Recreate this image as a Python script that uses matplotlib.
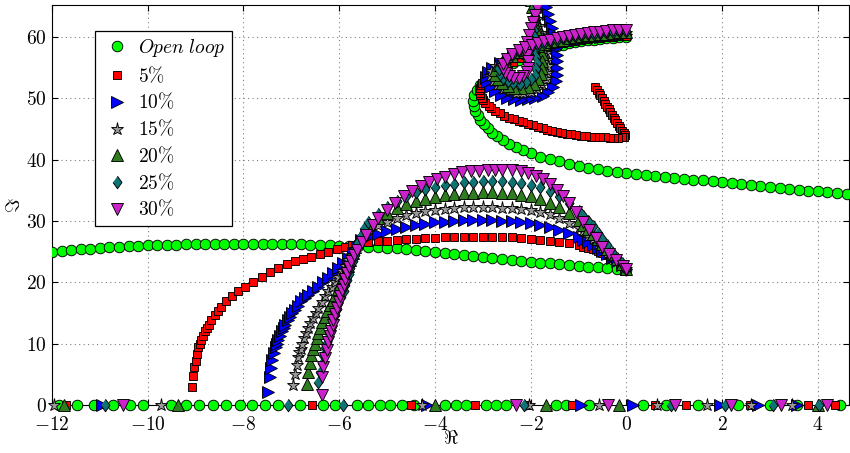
import numpy as np
import matplotlib
matplotlib.use("Agg")
import matplotlib.pyplot as plt
from matplotlib.ticker import FuncFormatter, MultipleLocator

plt.rcParams["mathtext.fontset"] = "cm"
plt.rcParams["font.family"] = ["DejaVu Serif"]

# ---- root locus data, (re, im) pairs ----

# open loop
ol_lower = [(-12.0, 24.9), (-11.8, 25.1), (-11.6, 25.25), (-11.4, 25.4), (-11.2, 25.5), (-11.0, 25.6),
            (-10.8, 25.7), (-10.6, 25.8), (-10.4, 25.9), (-10.2, 25.95), (-10.0, 26.0), (-9.8, 26.05),
            (-9.6, 26.1), (-9.4, 26.15), (-9.2, 26.2), (-9.0, 26.2), (-8.8, 26.25), (-8.6, 26.25),
            (-8.4, 26.3), (-8.2, 26.3), (-8.0, 26.3), (-7.8, 26.3), (-7.6, 26.3), (-7.4, 26.3),
            (-7.2, 26.25), (-7.0, 26.2), (-6.8, 26.2), (-6.6, 26.15), (-6.4, 26.1), (-6.2, 26.0),
            (-6.0, 25.95), (-5.8, 25.9), (-5.6, 25.85), (-5.4, 25.8), (-5.2, 25.75), (-5.0, 25.65),
            (-4.8, 25.55), (-4.6, 25.4), (-4.4, 25.25), (-4.2, 25.1), (-4.0, 24.95), (-3.8, 24.8),
            (-3.6, 24.6), (-3.4, 24.45), (-3.2, 24.25), (-3.0, 24.1), (-2.8, 23.9), (-2.6, 23.75),
            (-2.4, 23.6), (-2.2, 23.45), (-2.0, 23.35), (-1.8, 23.2), (-1.6, 23.1), (-1.4, 22.95),
            (-1.2, 22.85), (-1.0, 22.7), (-0.8, 22.55), (-0.6, 22.45), (-0.4, 22.3), (-0.2, 22.15),
            (0.0, 22.0)]
ol_upper = [(4.6, 34.35), (4.4, 34.5), (4.2, 34.65), (4.0, 34.8), (3.8, 34.95), (3.6, 35.1), (3.4, 35.25),
            (3.2, 35.4), (3.0, 35.55), (2.8, 35.7), (2.6, 35.85), (2.4, 36.0), (2.2, 36.15), (2.0, 36.3),
            (1.8, 36.45), (1.6, 36.6), (1.4, 36.75), (1.2, 36.9), (1.0, 37.05), (0.8, 37.2), (0.6, 37.35),
            (0.4, 37.5), (0.2, 37.65), (0.0, 37.8), (-0.2, 38.0), (-0.4, 38.2), (-0.6, 38.45), (-0.8, 38.7),
            (-1.0, 39.0), (-1.2, 39.3), (-1.4, 39.7), (-1.6, 40.1), (-1.8, 40.5), (-2.0, 41.0), (-2.15, 41.5),
            (-2.3, 42.0), (-2.45, 42.6), (-2.58, 43.2), (-2.7, 43.8), (-2.8, 44.4), (-2.9, 45.1), (-2.98, 45.8),
            (-3.05, 46.5), (-3.11, 47.2), (-3.16, 48.0), (-3.19, 48.8), (-3.2, 49.6), (-3.18, 50.5),
            (-3.13, 51.3), (-3.05, 52.1), (-2.95, 52.9), (-2.82, 53.7), (-2.67, 54.4), (-2.5, 55.1),
            (-2.37, 55.7), (-2.24, 56.3), (-2.11, 56.85), (-1.98, 57.3), (-1.85, 57.7), (-1.72, 58.05),
            (-1.59, 58.3), (-1.46, 58.55), (-1.33, 58.75), (-1.2, 58.95), (-1.07, 59.15), (-0.94, 59.3),
            (-0.81, 59.45), (-0.68, 59.55), (-0.55, 59.65), (-0.42, 59.75), (-0.29, 59.85), (-0.16, 59.95),
            (0.0, 60.0)]
ol_axis = [-11.85, -11.47, -11.12, -10.73, -10.38, -10.10, -9.51, -9.20, -8.92, -8.64, -8.36, -8.08,
           -7.83, -7.55, -7.27, -6.82, -6.33, -6.09, -5.63, -5.39, -5.14, -4.93, -4.69, -4.44, -3.78,
           -3.57, -3.36, -2.94, -2.73, -2.52, -1.47, -1.26, -0.78, 0.34, 0.83, 1.49, 2.33, 3.0, 3.56, 4.47]

# 5 %
p5_lower = [(-9.08, 2.9), (-9.06, 4.8), (-9.03, 6.2), (-9.0, 7.2), (-8.97, 8.3), (-8.94, 9.4), (-8.91, 10.0),
            (-8.89, 10.6), (-8.85, 11.3), (-8.81, 12.0), (-8.77, 12.6), (-8.73, 13.1), (-8.67, 13.9),
            (-8.60, 14.7), (-8.53, 15.4), (-8.46, 16.0), (-8.36, 16.9), (-8.25, 17.7), (-8.12, 18.5),
            (-7.97, 19.3), (-7.80, 20.1), (-7.62, 20.9), (-7.45, 21.6), (-7.27, 22.3), (-7.10, 22.9),
            (-6.92, 23.4), (-6.75, 23.8), (-6.58, 24.2), (-6.40, 24.6), (-6.23, 25.0), (-6.05, 25.4),
            (-5.88, 25.8), (-5.74, 26.0), (-5.6, 26.3), (-5.4, 26.5), (-5.2, 26.7), (-5.0, 26.8),
            (-4.8, 26.9), (-4.6, 27.0), (-4.4, 27.1), (-4.2, 27.2), (-4.0, 27.25), (-3.8, 27.3),
            (-3.6, 27.35), (-3.4, 27.35), (-3.2, 27.4), (-3.0, 27.4), (-2.8, 27.4), (-2.6, 27.35),
            (-2.4, 27.3), (-2.2, 27.2), (-2.0, 27.1), (-1.8, 26.95), (-1.6, 26.8), (-1.4, 26.6),
            (-1.2, 26.35), (-1.0, 26.0), (-0.9, 25.8), (-0.8, 25.6), (-0.7, 25.35), (-0.6, 25.1),
            (-0.5, 24.8), (-0.4, 24.4), (-0.3, 24.0), (-0.2, 23.5), (-0.1, 22.9), (0.0, 22.2)]
p5_upper = [(-0.65, 51.8), (-0.615, 51.35), (-0.58, 50.9), (-0.545, 50.45), (-0.51, 50.0), (-0.475, 49.55),
            (-0.44, 49.1), (-0.405, 48.65), (-0.37, 48.2), (-0.335, 47.75), (-0.3, 47.3), (-0.265, 46.85),
            (-0.23, 46.4), (-0.195, 45.95), (-0.16, 45.5), (-0.125, 45.1), (-0.09, 44.7), (-0.06, 44.35),
            (-0.03, 44.0), (-0.05, 43.7), (-0.1, 43.6), (-0.18, 43.55), (-0.25, 43.55), (-0.35, 43.58),
            (-0.45, 43.6), (-0.55, 43.65), (-0.65, 43.68), (-0.75, 43.72), (-0.85, 43.8), (-0.95, 43.9),
            (-1.05, 44.0), (-1.15, 44.1), (-1.25, 44.23), (-1.35, 44.37), (-1.45, 44.55), (-1.55, 44.72),
            (-1.65, 44.9), (-1.75, 45.1), (-1.85, 45.33), (-1.95, 45.57), (-2.05, 45.8), (-2.15, 46.07),
            (-2.25, 46.33), (-2.35, 46.6), (-2.45, 46.85), (-2.55, 47.15), (-2.65, 47.55), (-2.75, 48.0),
            (-2.82, 48.35), (-2.88, 48.75), (-2.95, 49.3), (-3.0, 49.7), (-3.02, 50.1), (-3.05, 50.5),
            (-3.06, 50.9), (-3.07, 51.3), (-3.06, 51.7), (-3.04, 52.1), (-3.02, 52.5), (-2.98, 52.9),
            (-2.94, 53.3), (-2.88, 53.7), (-2.82, 54.1), (-2.74, 54.5), (-2.66, 54.9), (-2.57, 55.25),
            (-2.47, 55.6), (-2.37, 55.9), (-2.24, 56.5), (-2.11, 57.0), (-1.98, 57.45), (-1.85, 57.85),
            (-1.72, 58.2), (-1.59, 58.5), (-1.46, 58.75), (-1.33, 58.95), (-1.2, 59.15), (-1.07, 59.35),
            (-0.94, 59.5), (-0.81, 59.65), (-0.68, 59.75), (-0.55, 59.85), (-0.42, 59.95), (-0.29, 60.05),
            (-0.16, 60.15), (0.0, 60.2)]
p5_axis = [-11.71, -6.56, -4.51, -3.17, -2.07, -1.13, 0.59, 1.25, 2.58, 3.80, 4.36]

# 10 %
p10_lower = [(-7.48, 2.1), (-7.45, 4.6), (-7.43, 6.1), (-7.40, 7.4), (-7.37, 8.4), (-7.32, 9.5), (-7.30, 10.0),
             (-7.27, 10.6), (-7.23, 11.3), (-7.2, 12.0), (-7.16, 12.6), (-7.13, 13.1), (-7.08, 13.8),
             (-7.03, 14.4), (-6.98, 15.0), (-6.93, 15.5), (-6.86, 16.2), (-6.79, 16.9), (-6.72, 17.4),
             (-6.65, 17.9), (-6.55, 18.6), (-6.44, 19.3), (-6.34, 20.0), (-6.23, 20.7), (-6.12, 21.5),
             (-6.02, 22.3), (-5.92, 23.1), (-5.81, 23.9), (-5.72, 24.8), (-5.63, 25.8), (-5.55, 26.9),
             (-5.4, 27.3), (-5.2, 27.8), (-5.0, 28.3), (-4.8, 28.7), (-4.6, 29.0), (-4.4, 29.3),
             (-4.2, 29.55), (-4.0, 29.75), (-3.8, 29.9), (-3.6, 30.0), (-3.4, 30.1), (-3.2, 30.15),
             (-3.0, 30.15), (-2.8, 30.1), (-2.6, 30.05), (-2.4, 30.0), (-2.2, 29.85), (-2.0, 29.65),
             (-1.8, 29.4), (-1.6, 29.05), (-1.4, 28.6), (-1.2, 28.0), (-1.0, 27.3), (-0.9, 26.9),
             (-0.8, 26.5), (-0.7, 26.1), (-0.6, 25.6), (-0.5, 25.1), (-0.4, 24.6), (-0.3, 24.0),
             (-0.2, 23.5), (-0.1, 22.8), (0.0, 22.2)]
p10_upper = [(-1.68, 64.8), (-1.63, 63.7), (-1.59, 62.6), (-1.55, 61.5), (-1.52, 60.4), (-1.49, 59.3),
             (-1.47, 58.2), (-1.45, 57.1), (-1.44, 56.0), (-1.44, 54.9), (-1.45, 53.8), (-1.48, 52.8),
             (-1.54, 51.8), (-1.63, 51.0), (-1.75, 50.4), (-1.9, 50.0), (-2.05, 49.8), (-2.2, 49.75),
             (-2.35, 49.85), (-2.5, 50.1), (-2.63, 50.5), (-2.75, 51.1), (-2.85, 51.8), (-2.92, 52.6),
             (-2.94, 53.4), (-2.9, 54.2), (-2.8, 55.0), (-2.65, 55.7), (-2.46, 56.35), (-2.37, 56.65),
             (-2.24, 57.1), (-2.11, 57.5), (-1.98, 57.85), (-1.85, 58.15), (-1.72, 58.45), (-1.59, 58.7),
             (-1.46, 58.95), (-1.33, 59.15), (-1.2, 59.35), (-1.07, 59.55), (-0.94, 59.7), (-0.81, 59.85),
             (-0.68, 59.95), (-0.55, 60.05), (-0.42, 60.15), (-0.29, 60.25), (-0.16, 60.35), (0.0, 60.4)]
p10_axis = [-10.95, -4.17, -0.95, 0.13, 1.95, 2.75, 3.56]

# 15 %
p15_lower = [(-6.96, 3.3), (-6.93, 5.1), (-6.89, 6.5), (-6.86, 7.9), (-6.83, 8.6), (-6.80, 9.2), (-6.77, 10.0),
             (-6.73, 10.9), (-6.69, 11.7), (-6.65, 12.5), (-6.60, 13.3), (-6.54, 14.1), (-6.49, 15.0),
             (-6.44, 15.8), (-6.37, 16.8), (-6.30, 17.7), (-6.23, 18.5), (-6.16, 19.3), (-6.09, 20.1),
             (-6.02, 20.9), (-5.95, 21.8), (-5.88, 22.6), (-5.81, 23.6), (-5.74, 24.5), (-5.67, 25.5),
             (-5.6, 26.4), (-5.52, 27.4), (-5.4, 28.6), (-5.2, 29.3), (-5.0, 29.9), (-4.8, 30.5),
             (-4.6, 30.9), (-4.4, 31.3), (-4.2, 31.6), (-4.0, 31.85), (-3.8, 32.0), (-3.6, 32.15),
             (-3.4, 32.2), (-3.2, 32.25), (-3.0, 32.25), (-2.8, 32.2), (-2.6, 32.15), (-2.4, 32.1),
             (-2.2, 32.0), (-2.0, 31.8), (-1.8, 31.5), (-1.6, 31.1), (-1.4, 30.5), (-1.2, 29.7),
             (-1.0, 28.8), (-0.9, 28.3), (-0.8, 27.6), (-0.7, 27.0), (-0.6, 26.3), (-0.5, 25.6),
             (-0.4, 24.8), (-0.3, 24.1), (-0.2, 23.4), (-0.1, 22.8), (0.0, 22.2)]
p15_upper = [(-1.97, 66.2), (-1.93, 65.1), (-1.9, 64.0), (-1.86, 62.9), (-1.82, 61.8), (-1.78, 60.7),
             (-1.74, 59.6), (-1.7, 58.5), (-1.67, 57.4), (-1.65, 56.3), (-1.64, 55.2), (-1.65, 54.1),
             (-1.69, 53.1), (-1.76, 52.2), (-1.87, 51.5), (-2.0, 51.0), (-2.15, 50.8), (-2.3, 50.85),
             (-2.45, 51.1), (-2.58, 51.5), (-2.7, 52.1), (-2.79, 52.8), (-2.84, 53.6), (-2.83, 54.4),
             (-2.74, 55.2), (-2.6, 55.9), (-2.5, 56.35), (-2.37, 56.85), (-2.24, 57.3), (-2.11, 57.7),
             (-1.98, 58.05), (-1.85, 58.35), (-1.72, 58.65), (-1.59, 58.9), (-1.46, 59.15), (-1.33, 59.35),
             (-1.2, 59.55), (-1.07, 59.75), (-0.94, 59.9), (-0.81, 60.05), (-0.68, 60.15), (-0.55, 60.25),
             (-0.42, 60.35), (-0.29, 60.45), (-0.16, 60.55), (0.0, 60.6)]
p15_axis = [-11.96, -9.72, -4.26, -2.03, -0.57, 0.64, 1.68, 2.61, 3.45]

# 20 %
p20_lower = [(-6.68, 3.4), (-6.65, 5.4), (-6.61, 6.9), (-6.58, 8.2), (-6.54, 9.2), (-6.51, 10.0), (-6.47, 10.9),
             (-6.44, 11.7), (-6.40, 12.5), (-6.35, 13.5), (-6.30, 14.4), (-6.25, 15.4), (-6.19, 16.3),
             (-6.14, 17.1), (-6.09, 17.9), (-6.03, 18.9), (-5.98, 19.8), (-5.93, 20.8), (-5.88, 21.7),
             (-5.82, 22.7), (-5.77, 23.7), (-5.72, 24.8), (-5.67, 25.8), (-5.6, 26.9), (-5.52, 28.0),
             (-5.4, 29.3), (-5.2, 30.4), (-5.0, 31.3), (-4.8, 32.1), (-4.6, 32.7), (-4.4, 33.2),
             (-4.2, 33.6), (-4.0, 33.95), (-3.8, 34.2), (-3.6, 34.4), (-3.4, 34.5), (-3.2, 34.6),
             (-3.0, 34.65), (-2.8, 34.65), (-2.6, 34.6), (-2.4, 34.5), (-2.2, 34.3), (-2.0, 34.0),
             (-1.8, 33.6), (-1.6, 33.0), (-1.4, 32.3), (-1.2, 31.3), (-1.0, 30.1), (-0.9, 29.4),
             (-0.8, 28.7), (-0.7, 27.9), (-0.6, 27.1), (-0.5, 26.3), (-0.4, 25.4), (-0.3, 24.6),
             (-0.2, 23.8), (-0.1, 23.0), (0.0, 22.2)]
p20_upper = [(-2.0, 66.0), (-1.97, 64.9), (-1.94, 63.8), (-1.91, 62.7), (-1.88, 61.6), (-1.85, 60.5),
             (-1.82, 59.4), (-1.79, 58.3), (-1.77, 57.2), (-1.76, 56.1), (-1.76, 55.0), (-1.79, 54.0),
             (-1.85, 53.1), (-1.94, 52.4), (-2.06, 51.9), (-2.2, 51.65), (-2.35, 51.7), (-2.48, 52.0),
             (-2.6, 52.5), (-2.69, 53.1), (-2.74, 53.8), (-2.74, 54.6), (-2.67, 55.4), (-2.54, 56.1),
             (-2.4, 56.85), (-2.24, 57.5), (-2.11, 57.9), (-1.98, 58.25), (-1.85, 58.55), (-1.72, 58.85),
             (-1.59, 59.1), (-1.46, 59.35), (-1.33, 59.55), (-1.2, 59.75), (-1.07, 59.95), (-0.94, 60.1),
             (-0.81, 60.25), (-0.68, 60.35), (-0.55, 60.45), (-0.42, 60.55), (-0.29, 60.65), (-0.16, 60.75),
             (0.0, 60.8)]
p20_axis = [-11.75, -9.37, -3.99, -1.68, -0.15, 4.01]

# 25 %
p25_lower = [(-6.44, 3.8), (-6.40, 5.4), (-6.37, 6.8), (-6.33, 8.2), (-6.30, 9.5), (-6.26, 10.3), (-6.23, 11.1),
             (-6.20, 12.0), (-6.16, 12.8), (-6.12, 13.8), (-6.09, 14.7), (-6.05, 15.7), (-6.02, 16.6),
             (-5.96, 17.6), (-5.91, 18.5), (-5.87, 19.5), (-5.84, 20.4), (-5.80, 21.4), (-5.77, 22.3),
             (-5.72, 23.4), (-5.68, 24.5), (-5.64, 25.5), (-5.6, 26.4), (-5.55, 27.6), (-5.48, 28.8),
             (-5.4, 29.8), (-5.2, 31.2), (-5.0, 32.3), (-4.8, 33.3), (-4.6, 34.1), (-4.4, 34.7),
             (-4.2, 35.2), (-4.0, 35.6), (-3.8, 35.9), (-3.6, 36.1), (-3.4, 36.3), (-3.2, 36.4),
             (-3.0, 36.5), (-2.8, 36.5), (-2.6, 36.5), (-2.4, 36.4), (-2.2, 36.2), (-2.0, 35.9),
             (-1.8, 35.5), (-1.6, 34.9), (-1.4, 34.1), (-1.2, 33.0), (-1.0, 31.6), (-0.9, 30.8),
             (-0.8, 30.0), (-0.7, 29.1), (-0.6, 28.1), (-0.5, 27.1), (-0.4, 26.0), (-0.3, 25.0),
             (-0.2, 24.0), (-0.1, 23.1), (0.0, 22.2)]
p25_upper = [(-1.88, 65.6), (-1.9, 64.5), (-1.92, 63.4), (-1.93, 62.3), (-1.93, 61.2), (-1.93, 60.1),
             (-1.92, 59.0), (-1.9, 57.9), (-1.88, 56.8), (-1.87, 55.7), (-1.88, 54.7), (-1.92, 53.8),
             (-1.99, 53.1), (-2.09, 52.6), (-2.22, 52.4), (-2.36, 52.5), (-2.48, 52.8), (-2.58, 53.3),
             (-2.65, 54.0), (-2.67, 54.8), (-2.63, 55.6), (-2.52, 56.4), (-2.38, 57.05), (-2.24, 57.7),
             (-2.11, 58.1), (-1.98, 58.45), (-1.85, 58.75), (-1.72, 59.05), (-1.59, 59.3), (-1.46, 59.55),
             (-1.33, 59.75), (-1.2, 59.95), (-1.07, 60.15), (-0.94, 60.3), (-0.81, 60.45), (-0.68, 60.55),
             (-0.55, 60.65), (-0.42, 60.75), (-0.29, 60.85), (-0.16, 60.95), (0.0, 61.0)]
p25_axis = [-10.9, -7.08, -5.93, -2.14, 0.94, 2.05, 3.07, 4.03]

# 30 %
p30_lower = [(-6.37, 1.6), (-6.35, 4.5), (-6.33, 6.2), (-6.30, 7.6), (-6.26, 9.0), (-6.23, 10.3), (-6.20, 11.2),
             (-6.17, 12.0), (-6.14, 13.0), (-6.12, 13.9), (-6.08, 14.9), (-6.05, 15.8), (-6.01, 16.8),
             (-5.98, 17.7), (-5.94, 18.7), (-5.91, 19.6), (-5.87, 20.6), (-5.84, 21.5), (-5.8, 22.5),
             (-5.76, 23.4), (-5.69, 24.4), (-5.62, 25.3), (-5.53, 26.5), (-5.45, 27.7), (-5.3, 29.4),
             (-5.18, 30.5), (-5.0, 31.8), (-4.83, 33.0), (-4.65, 34.0), (-4.48, 34.9), (-4.3, 35.7),
             (-4.13, 36.3), (-3.95, 36.8), (-3.8, 37.2), (-3.6, 37.6), (-3.43, 37.9), (-3.25, 38.1),
             (-3.08, 38.2), (-2.9, 38.3), (-2.75, 38.35), (-2.59, 38.35), (-2.4, 38.3), (-2.2, 38.1),
             (-2.05, 37.8), (-1.89, 37.4), (-1.75, 36.8), (-1.6, 36.0), (-1.45, 35.0), (-1.33, 34.1),
             (-1.2, 32.9), (-1.05, 31.4), (-0.91, 29.9), (-0.78, 28.6), (-0.64, 27.2), (-0.5, 25.8),
             (-0.36, 24.6), (-0.22, 23.6), (-0.08, 22.7), (0.0, 22.2)]
p30_upper = [(-1.86, 64.7), (-1.9, 63.6), (-1.95, 62.5), (-2.0, 61.4), (-2.04, 60.3), (-2.07, 59.2),
             (-2.08, 58.1), (-2.07, 57.0), (-2.05, 56.0), (-2.05, 55.0), (-2.08, 54.2), (-2.15, 53.6),
             (-2.25, 53.3), (-2.36, 53.3), (-2.46, 53.6), (-2.54, 54.1), (-2.58, 54.8), (-2.57, 55.6),
             (-2.5, 56.4), (-2.38, 57.2), (-2.24, 57.9), (-2.11, 58.3), (-1.98, 58.65), (-1.85, 58.95),
             (-1.72, 59.25), (-1.59, 59.5), (-1.46, 59.75), (-1.33, 59.95), (-1.2, 60.15), (-1.07, 60.35),
             (-0.94, 60.5), (-0.81, 60.65), (-0.68, 60.75), (-0.55, 60.85), (-0.42, 60.95), (-0.29, 61.05),
             (-0.16, 61.15), (0.0, 61.2)]
p30_axis = [-10.52, -2.31, -0.39, 1.01, 2.19, 3.24, 4.19]

labels = [r"$Open\ loop$", r"$5\%$", r"$10\%$", r"$15\%$", r"$20\%$", r"$25\%$", r"$30\%$"]
branches = [
    (ol_lower, ol_upper, ol_axis),
    (p5_lower, p5_upper, p5_axis),
    (p10_lower, p10_upper, p10_axis),
    (p15_lower, p15_upper, p15_axis),
    (p20_lower, p20_upper, p20_axis),
    (p25_lower, p25_upper, p25_axis),
    (p30_lower, p30_upper, p30_axis),
]

diamond = [(0, 1), (0.72, 0), (0, -1), (-0.72, 0)]
styles = [
    dict(marker="o", mfc="#00ff00", ms=7.6),
    dict(marker="s", mfc="#ff0000", ms=6.4),
    dict(marker=">", mfc="#0000ff", ms=8),
    dict(marker="*", mfc="#999999", ms=9.5),
    dict(marker="^", mfc="#2e7d1f", ms=8),
    dict(marker=diamond, mfc="#0f7373", ms=9),
    dict(marker="v", mfc="#cc22cc", ms=8),
]

fig = plt.figure(figsize=(8.5, 4.53), dpi=100)
ax = fig.add_axes([0.0612, 0.106, 0.9376, 0.883])

handles = []
for (lower, upper, axis_pts), st, lab in zip(branches, styles, labels):
    kw = dict(linestyle="none", mec="k", mew=0.65, **st)
    lx, ly = np.array(lower).T
    ux, uy = np.array(upper).T
    h, = ax.plot(lx, ly, label=lab, zorder=3, **kw)
    ax.plot(ux, uy, zorder=3, **kw)
    ax.plot(axis_pts, np.zeros(len(axis_pts)), zorder=4, clip_on=False, **kw)
    handles.append(h)

ax.set_xlim(-12, 4.65)
ax.set_ylim(0, 65.2)
ax.xaxis.set_major_locator(MultipleLocator(2))
ax.yaxis.set_major_locator(MultipleLocator(10))
fmt = FuncFormatter(lambda v, p: "$%g$" % v)
ax.xaxis.set_major_formatter(fmt)
ax.yaxis.set_major_formatter(fmt)
ax.tick_params(direction="in", top=True, right=True, length=4, labelsize=14)
ax.tick_params(axis="x", pad=8)
ax.grid(True, linestyle=(0, (1, 3)), color="0.5", linewidth=0.8)
ax.set_axisbelow(True)

ax.set_xlabel(r"$\Re$", fontsize=14, labelpad=-3)
ax.set_ylabel(r"$\Im$", fontsize=14, labelpad=2)

leg = ax.legend(handles=handles, loc="upper left", bbox_to_anchor=(0.054, 0.935), borderaxespad=0,
                fontsize=14, fancybox=False, edgecolor="k", framealpha=1, handletextpad=0.3,
                labelspacing=0.32, handlelength=1.6, borderpad=0.32)
leg.get_frame().set_linewidth(0.9)

fig.savefig("out.png", dpi=100)
